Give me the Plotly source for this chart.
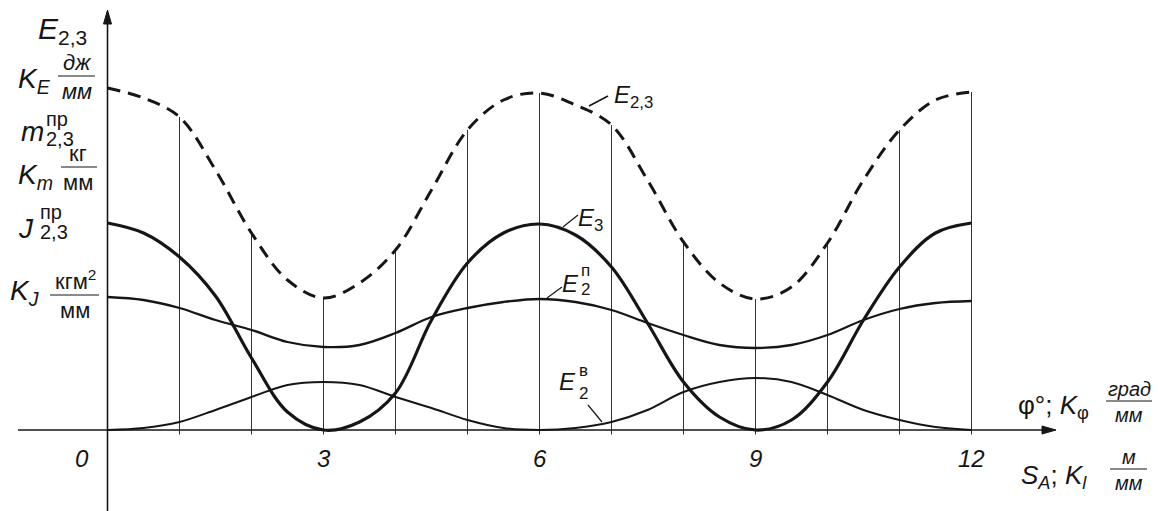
import plotly.graph_objects as go

# Crank angle divisions (phi, in scale divisions) and energy ordinates
phi = [0, 0.5, 1, 1.5, 2, 2.5, 3, 3.5, 4, 4.5, 5, 5.5, 6,
       6.5, 7, 7.5, 8, 8.5, 9, 9.5, 10, 10.5, 11, 11.5, 12]

E23 = [34.2, 33.2, 31.3, 26.0, 19.7, 15.0, 13.2, 14.7, 18.0, 24.0, 30.0, 33.0, 33.7,
       32.5, 30.5, 25.0, 18.8, 14.7, 13.1, 14.3, 18.7, 25.0, 30.0, 33.0, 33.8]
E3 = [20.7, 19.7, 17.3, 13.4, 7.2, 1.8, 0.0, 0.8, 3.7, 11.0, 16.7, 19.7, 20.6,
      19.5, 16.3, 10.7, 4.8, 1.3, 0.0, 1.0, 4.8, 11.0, 16.3, 19.7, 20.7]
E2_pot = [13.3, 13.0, 12.2, 11.0, 10.0, 8.8, 8.3, 8.5, 9.7, 11.3, 12.2, 12.8, 13.1,
          12.8, 12.0, 10.7, 9.5, 8.5, 8.2, 8.5, 9.5, 11.0, 12.1, 12.7, 12.9]
E2_rot = [0.0, 0.2, 0.8, 2.0, 3.3, 4.5, 4.8, 4.5, 3.3, 2.2, 1.0, 0.2, 0.0,
          0.2, 0.8, 2.0, 3.8, 4.8, 5.2, 4.8, 3.5, 2.0, 1.0, 0.3, 0.0]

tick_vals = [3, 6, 9, 12]
tick_text = ["3", "6", "9", "12"]

W, H = 1160, 511
X0_PX, X_SCALE = 107.5, 72.0     # pixel of phi = 0, pixels per division
Y0_PX, Y_SCALE = 430.0, 10.0     # pixel of the baseline, pixels per unit
x_range = [(0 - X0_PX) / X_SCALE, (W - X0_PX) / X_SCALE]
y_range = [(Y0_PX - H) / Y_SCALE, Y0_PX / Y_SCALE]

INK = "#161616"
FONT = "Liberation Sans, Arial, sans-serif"


def px(x):
    return x / W


def py(y):
    return 1 - y / H


fig = go.Figure()

# ordinates at each whole division, from the axis up to the total curve
vx, vy = [], []
for p, e in zip(phi, E23):
    if p > 0 and float(p).is_integer():
        vx += [p, p, None]
        vy += [-0.45, e, None]
fig.add_trace(go.Scatter(x=vx, y=vy, mode="lines",
                         line=dict(color="#333333", width=1), hoverinfo="skip"))


def curve(values, width, dash="solid"):
    fig.add_trace(go.Scatter(x=phi, y=values, mode="lines",
                             line=dict(color=INK, width=width, dash=dash,
                                       shape="spline", smoothing=1.0, simplify=False)))


curve(E2_rot, 2)
curve(E2_pot, 2.3)
curve(E3, 3.2)
curve(E23, 3, "13px,8px")

shapes = []
annotations = []

# coordinate axes with arrowheads
x_left = (18 - X0_PX) / X_SCALE
x_tip = (1056 - X0_PX) / X_SCALE
y_bottom = y_range[0]
y_tip = (Y0_PX - 10) / Y_SCALE
shapes.append(dict(type="line", xref="x", yref="y", x0=x_left, y0=0, x1=x_tip - 0.1, y1=0,
                   line=dict(color=INK, width=1.6)))
shapes.append(dict(type="line", xref="x", yref="y", x0=0, y0=y_bottom, x1=0, y1=y_tip - 1,
                   line=dict(color=INK, width=1.6)))
ah_len, ah_half = 14, 4
shapes.append(dict(type="path", xref="x", yref="y", fillcolor=INK, line=dict(color=INK, width=1),
                   path=f"M{x_tip},0 L{x_tip - ah_len / X_SCALE},{ah_half / Y_SCALE} "
                        f"L{x_tip - ah_len / X_SCALE},{-ah_half / Y_SCALE} Z"))
shapes.append(dict(type="path", xref="x", yref="y", fillcolor=INK, line=dict(color=INK, width=1),
                   path=f"M0,{y_tip} L{ah_half / X_SCALE},{y_tip - ah_len / Y_SCALE} "
                        f"L{-ah_half / X_SCALE},{y_tip - ah_len / Y_SCALE} Z"))


def label(text, x, y, size, xanchor="left", yanchor="middle"):
    annotations.append(dict(text=text, x=px(x), y=py(y), xref="paper", yref="paper",
                            xanchor=xanchor, yanchor=yanchor, showarrow=False,
                            font=dict(family=FONT, size=size, color=INK)))


def rule(x0, y0, x1, y1, width=1.2):
    shapes.append(dict(type="line", xref="paper", yref="paper",
                       x0=px(x0), y0=py(y0), x1=px(x1), y1=py(y1),
                       line=dict(color=INK, width=width)))


def fraction(num, den, cx, y_line, x0, x1, size, italic):
    wrap = (lambda s: f"<i>{s}</i>") if italic else (lambda s: s)
    label(wrap(num), cx, y_line + 1, size, xanchor="center", yanchor="bottom")
    rule(x0, y_line, x1, y_line)
    label(wrap(den), cx, y_line + 1, size, xanchor="center", yanchor="top")


# ordinate caption block
label("<i>E</i><sub>2,3</sub>", 36, 30, 30)
label("<i>K<sub>E</sub></i>", 16, 80, 28)
fraction("дж", "мм", 77, 76, 58, 95, 22, True)
label("<i>m</i>", 19, 131, 28)
label("пр", 44, 119, 20)
label("2,3", 44, 139, 20)
label("<i>K<sub>m</sub></i>", 16, 176, 28)
fraction("кг", "мм", 78, 167, 61, 97, 22, False)
label("<i>J</i>", 16, 228, 28)
label("пр", 38, 212, 20)
label("2,3", 38, 232, 20)
label("<i>K<sub>J</sub></i>", 8, 292, 28)
fraction("кгм<sup>2</sup>", "мм", 75, 295, 50, 99, 22, False)

# abscissa numbers
label("<i>0</i>", 82, 458, 24, xanchor="center")
for v, t in zip(tick_vals, tick_text):
    annotations.append(dict(text=f"<i>{t}</i>", x=v, y=(Y0_PX - 458) / Y_SCALE,
                            xref="x", yref="y", xanchor="center", yanchor="middle",
                            showarrow=False, font=dict(family=FONT, size=24, color=INK)))

# abscissa captions
label("φ°; <i>K</i><sub>φ</sub>", 1016, 406, 26)
fraction("град", "мм", 1129, 401, 1106, 1152, 20, True)
label("<i>S<sub>A</sub></i>; <i>K<sub>l</sub></i>", 1019, 476, 26)
fraction("м", "мм", 1129, 469, 1110, 1147, 20, True)

# curve labels with leader lines
label("<i>E</i><sub>2,3</sub>", 612, 96, 24)
rule(589, 106, 608, 96, 1.6)
label("<i>E</i><sub>3</sub>", 576, 219, 24)
rule(563, 227, 578, 215, 1.2)
label("<i>E</i>", 560, 283, 24)
label("п", 579, 270, 17)
label("2", 579, 289, 17)
rule(547, 298, 562, 287, 1.2)
label("<i>E</i>", 557, 381, 24)
label("в", 577, 370, 17)
label("2", 577, 393, 17)
rule(588, 405, 602, 422, 1.2)

fig.update_layout(
    width=W, height=H,
    margin=dict(l=0, r=0, t=0, b=0),
    paper_bgcolor="white", plot_bgcolor="white",
    showlegend=False,
    xaxis=dict(range=x_range, visible=False, fixedrange=True),
    yaxis=dict(range=y_range, visible=False, fixedrange=True),
    shapes=shapes, annotations=annotations,
)

fig.write_html("out.html")
